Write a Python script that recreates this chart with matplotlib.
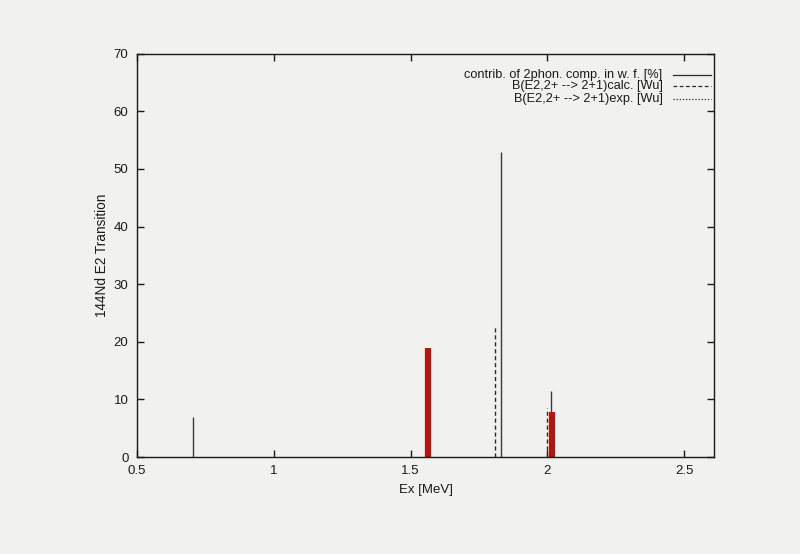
import matplotlib
matplotlib.use("Agg")
import matplotlib.pyplot as plt

plt.rcParams['font.family'] = ['Liberation Sans', 'DejaVu Sans']

# Data
contrib_x = [0.705, 1.830, 2.012]
contrib_y = [7.0, 53.0, 11.5]
calc_x = [1.808, 2.000]
calc_y = [23.0, 8.5]
exp_x = [1.565, 2.016]
exp_y = [19.0, 7.8]

xticks = [0.5, 1, 1.5, 2, 2.5]
xtick_labels = ["0.5", "1", "1.5", "2", "2.5"]
yticks = [0, 10, 20, 30, 40, 50, 60, 70]

labels = [
    "contrib. of 2phon. comp. in w. f. [%]",
    "B(E2,2+ --> 2+1)calc. [Wu]",
    "B(E2,2+ --> 2+1)exp. [Wu]",
]
styles = ["solid", (0, (3, 2)), (0, (1, 1.5))]

bg = "#f1f1ef"
ink = "#1a1a1a"
fig = plt.figure(figsize=(8.0, 5.54), dpi=100, facecolor=bg)
ax = fig.add_axes([0.171, 0.175, 0.722, 0.728])
ax.set_facecolor(bg)

ax.vlines(contrib_x, 0, contrib_y, colors="#3a3a3a", linewidth=1.0, linestyles=styles[0])
ax.vlines(calc_x, 0, calc_y, colors="#2a2a2a", linewidth=1.0, linestyles=styles[1])
ax.vlines(exp_x, 0, exp_y, colors="#2a2a2a", linewidth=1.0, linestyles=styles[2])
# hand-drawn red highlight over experimental values
ax.vlines(exp_x, 0, exp_y, colors="#b3160f", linewidth=4.5, linestyles="solid")

ax.set_xlim(0.5, 2.61)
ax.set_ylim(0, 70)
ax.set_xticks(xticks)
ax.set_xticklabels(xtick_labels)
ax.set_yticks(yticks)
ax.tick_params(direction="in", top=True, right=True, length=5, width=1,
               labelsize=9.5, colors=ink, pad=6)
for s in ax.spines.values():
    s.set_linewidth(1.0)
    s.set_color(ink)

ax.set_xlabel("Ex [MeV]", fontsize=9.5, color=ink, labelpad=5)
ax.set_ylabel("144Nd E2 Transition", fontsize=9.8, color=ink, labelpad=3)

# gnuplot-style key: right-aligned text followed by line sample
rows_y = [0.948, 0.919, 0.889]
for lab, ls, yy in zip(labels, styles, rows_y):
    ax.text(0.910, yy, lab, transform=ax.transAxes, ha="right", va="center",
            fontsize=9.2, color=ink)
    ax.plot([0.928, 0.994], [yy, yy], transform=ax.transAxes, color="#2a2a2a",
            lw=0.9, ls=ls, clip_on=False)

fig.savefig("out.png", dpi=100, facecolor=bg)
